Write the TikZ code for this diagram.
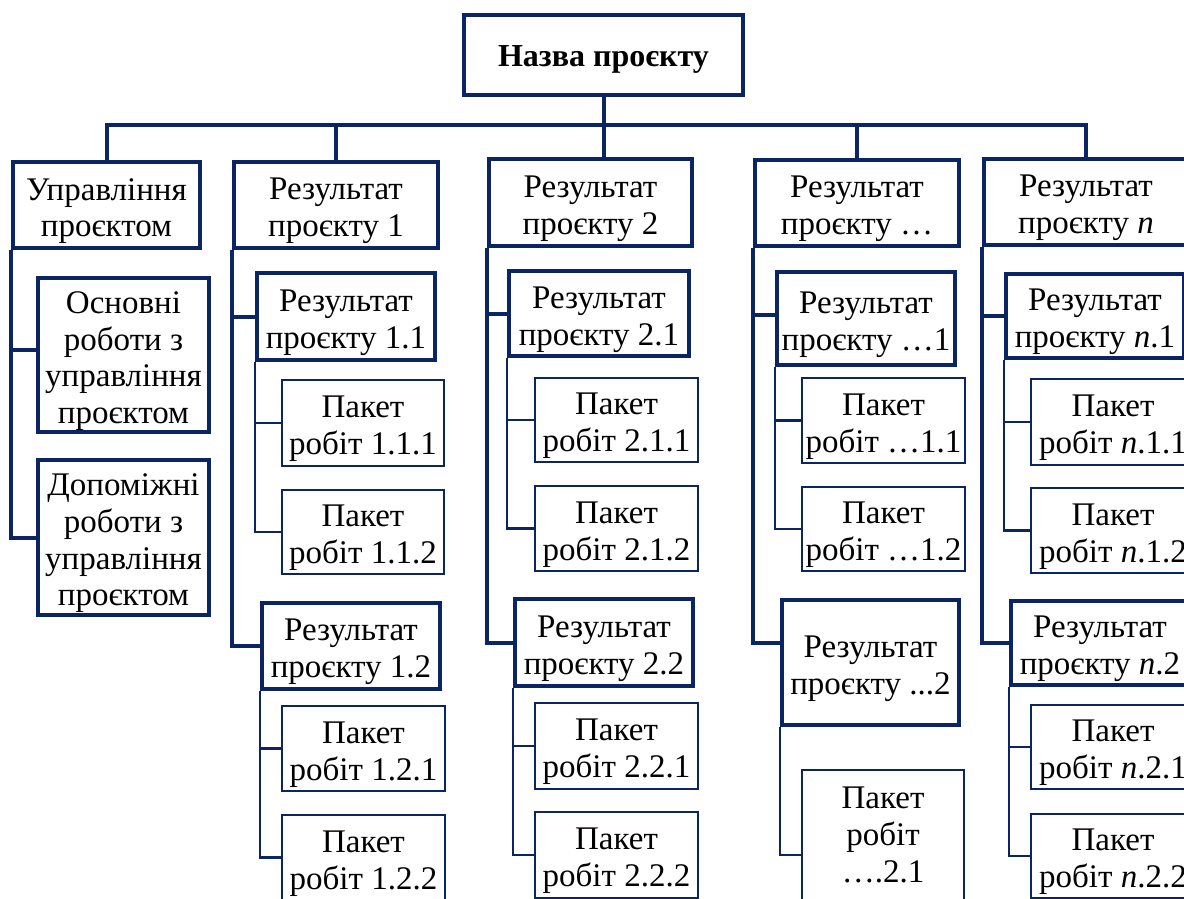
\documentclass[tikz,border=0pt]{standalone}
\usepackage{fontspec}
\setmainfont{Liberation Serif}
\definecolor{wbsline}{RGB}{10,36,100}
\tikzset{
  wbsbase/.style={draw=wbsline, align=center, inner sep=0pt, text=black,
    font=\fontsize{33}{36.7}\selectfont},
  thickbox/.style={wbsbase, line width=4pt},
  thinbox/.style={wbsbase, line width=2.7pt},
  link/.style={draw=wbsline, line width=4pt},
  sublink/.style={draw=wbsline, line width=2.7pt},
}
% \wbsboxat{drop}{style}{name}{x1}{y1}{x2}{y2}{text}: frame given by its outer
% corners, label lowered by drop below the frame centre
\newcommand\wbsboxat[8]{%
  \pgfmathsetmacro\wbsx{(#4+#6)/2}%
  \pgfmathsetmacro\wbsy{(#5+#7)/2}%
  \pgfmathsetmacro\wbsw{#6-#4-4}%
  \pgfmathsetmacro\wbsh{#7-#5-4}%
  \node[#2, minimum width=\wbsw pt, minimum height=\wbsh pt] (#3) at (\wbsx,\wbsy) {};%
  \node[#2, draw=none] (#3-label) at ([yshift=-#1]#3.center) {#8};%
}
\newcommand\wbsbox{\wbsboxat{6pt}}
\begin{document}
\begin{tikzpicture}[x=1pt,y=-1pt]
\path[use as bounding box, clip] (0,0) rectangle (1184,899);
\fill[white] (0,0) rectangle (1184,899);

% project root
\wbsboxat{4pt}{thickbox, font=\fontsize{32}{36.7}\selectfont\bfseries}{T}{462}{13}{745}{97}{Назва проєкту}

% first level
\wbsbox{thickbox}{A}{11}{160}{202}{250}{Управління\\проєктом}
\wbsbox{thickbox}{B}{232}{160}{440}{250}{Результат\\проєкту 1}
\wbsbox{thickbox}{C}{487}{157}{694}{248}{Результат\\проєкту 2}
\wbsbox{thickbox}{D}{753}{158}{961}{248}{Результат\\проєкту …}
\wbsbox{thickbox}{E}{982}{157}{1190}{247}{Результат\\проєкту \textit{n}}

% project management works
\wbsbox{thickbox}{A1}{36}{276}{211}{434}{Основні\\роботи з\\управління\\проєктом}
\wbsbox{thickbox}{A2}{36}{458}{211}{617}{Допоміжні\\роботи з\\управління\\проєктом}

% result 1
\wbsbox{thickbox}{B1}{255}{271}{437}{362}{Результат\\проєкту 1.1}
\wbsbox{thinbox}{B11}{280}{378}{446}{468}{Пакет\\робіт 1.1.1}
\wbsbox{thinbox}{B12}{280}{488}{446}{576}{Пакет\\робіт 1.1.2}
\wbsbox{thickbox}{B2}{260}{601}{442}{691}{Результат\\проєкту 1.2}
\wbsbox{thinbox}{B21}{280}{704}{447}{793}{Пакет\\робіт 1.2.1}
\wbsbox{thinbox}{B22}{280}{813}{447}{902}{Пакет\\робіт 1.2.2}

% result 2
\wbsbox{thickbox}{C1}{507}{269}{691}{358}{Результат\\проєкту 2.1}
\wbsbox{thinbox}{C11}{533}{376}{700}{464}{Пакет\\робіт 2.1.1}
\wbsbox{thinbox}{C12}{533}{484}{700}{573}{Пакет\\робіт 2.1.2}
\wbsbox{thickbox}{C2}{513}{597}{695}{688}{Результат\\проєкту 2.2}
\wbsbox{thinbox}{C21}{533}{701}{700}{791}{Пакет\\робіт 2.2.1}
\wbsbox{thinbox}{C22}{533}{810}{700}{900}{Пакет\\робіт 2.2.2}

% result ...
\wbsbox{thickbox}{D1}{775}{270}{957}{367}{Результат\\проєкту …1}
\wbsbox{thinbox}{D11}{800}{376}{967}{465}{Пакет\\робіт …1.1}
\wbsbox{thinbox}{D12}{800}{485}{967}{573}{Пакет\\робіт …1.2}
\wbsbox{thickbox}{D2}{780}{598}{961}{727}{Результат\\проєкту ...2}
\wbsboxat{0pt}{thinbox}{D21}{800}{768}{966}{902}{Пакет\\робіт\\….2.1}

% result n
\wbsbox{thickbox}{E1}{1004}{272}{1186}{360}{Результат\\проєкту \textit{n}.1}
\wbsbox{thinbox}{E11}{1029}{377}{1197}{467}{Пакет\\робіт \textit{n}.1.1}
\wbsbox{thinbox}{E12}{1029}{486}{1197}{575}{Пакет\\робіт \textit{n}.1.2}
\wbsbox{thickbox}{E2}{1009}{599}{1191}{687}{Результат\\проєкту \textit{n}.2}
\wbsbox{thinbox}{E21}{1029}{703}{1197}{791}{Пакет\\робіт \textit{n}.2.1}
\wbsbox{thinbox}{E22}{1029}{812}{1197}{900}{Пакет\\робіт \textit{n}.2.2}

% bus under the root
\coordinate (bus) at (0,125);
\draw[link] (T.south) -- (T.south |- C.north);
\draw[link] (A.north) -- (A.north |- bus) -- (E.north |- bus) -- (E.north);
\draw[link] (B.north) -- (B.north |- bus);
\draw[link] (D.north) -- (D.north |- bus);

% management branch
\draw[link] (A.south west) |- ([yshift=5pt]A1.west);
\draw[link] (A.south west) |- (A2.west);

% result 1 branch
\draw[link] (B.south west) |- (B1.west);
\draw[link] (B.south west) |- (B2.west);
\draw[sublink] (B1.south west) |- (B11.west);
\draw[sublink] (B1.south west) |- (B12.west);
\draw[sublink] (B2.south west) |- (B21.west);
\draw[sublink] (B2.south west) |- (B22.west);

% result 2 branch
\draw[link] (C.south west) |- (C1.west);
\draw[link] (C.south west) |- (C2.west);
\draw[sublink] (C1.south west) |- (C11.west);
\draw[sublink] (C1.south west) |- (C12.west);
\draw[sublink] (C2.south west) |- (C21.west);
\draw[sublink] (C2.south west) |- (C22.west);

% result ... branch
\draw[link] (D.south west) |- ([yshift=4pt]D1.west);
\draw[link] (D.south west) |- ([yshift=19.5pt]D2.west);
\draw[sublink] (D1.south west) |- (D11.west);
\draw[sublink] (D1.south west) |- (D12.west);
\draw[sublink] (D2.south west) |- ([yshift=-20pt]D21.west);

% result n branch
\draw[link] (E.south west) |- (E1.west);
\draw[link] (E.south west) |- (E2.west);
\draw[sublink] (E1.south west) |- (E11.west);
\draw[sublink] (E1.south west) |- (E12.west);
\draw[sublink] (E2.south west) |- (E21.west);
\draw[sublink] (E2.south west) |- (E22.west);
\end{tikzpicture}
\end{document}
